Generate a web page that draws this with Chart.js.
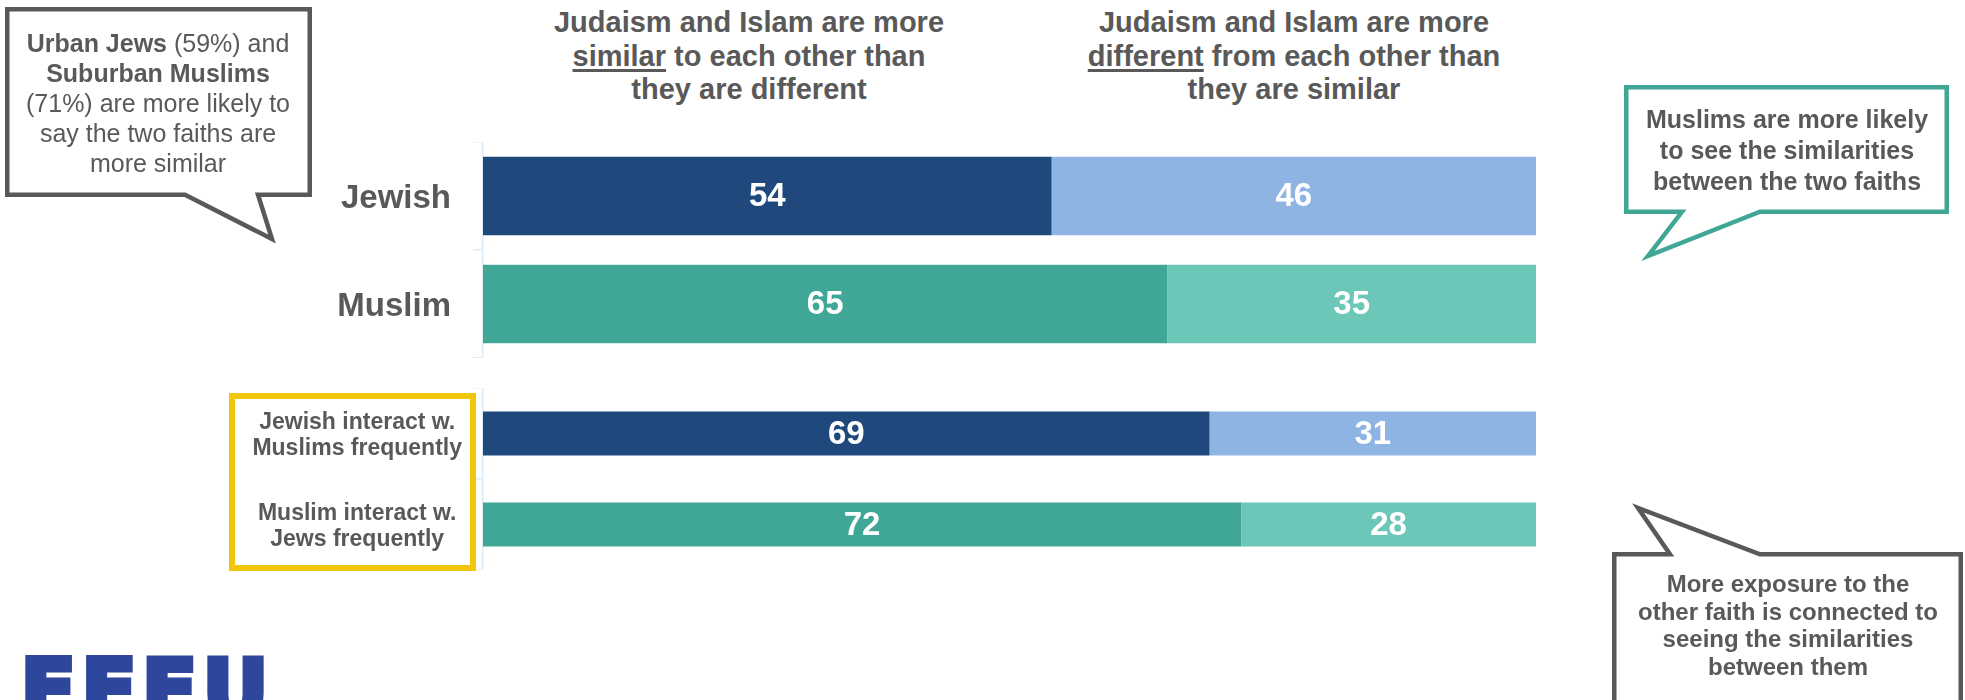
<!DOCTYPE html>
<html>
<head>
<meta charset="utf-8">
<script src="https://cdn.jsdelivr.net/npm/chart.js@4"></script>
<style>
  body {
    margin: 0;
    width: 1965px;
    height: 700px;
    overflow: hidden;
    background: #fff;
    position: relative;
    font-family: "Liberation Sans", Arial, sans-serif;
    color: #595959;
  }
  .pos { position: absolute; }
  .head {
    width: 460px;
    font-size: 29px;
    font-weight: bold;
    line-height: 33.5px;
    text-align: center;
    white-space: nowrap;
  }
  .head u {
    text-decoration-thickness: 3px;
    text-underline-offset: 3px;
  }
  .note {
    text-align: center;
    white-space: nowrap;
  }
  #topChart { left: 0; top: 142px; }
  #exposureChart { left: 0; top: 388px; }
  #exposureBox {
    left: 229px;
    top: 393px;
    width: 247px;
    height: 178px;
    box-sizing: border-box;
    border: 6px solid #F1C70E;
  }
  #logo {
    left: 21px;
    top: 650px;
    font-family: "DejaVu Sans", sans-serif;
    font-weight: bold;
    font-size: 80px;
    line-height: 80px;
    letter-spacing: 6px;
    color: #2E479C;
    -webkit-text-stroke: 6px #2E479C;
  }
</style>
</head>
<body>

<div class="pos head" style="left:519px; top:6px;">Judaism and Islam are more<br><u>similar</u> to each other than<br>they are different</div>
<div class="pos head" style="left:1064px; top:6px;">Judaism and Islam are more<br><u>different</u> from each other than<br>they are similar</div>

<canvas id="topChart" class="pos" width="1536" height="216"></canvas>
<canvas id="exposureChart" class="pos" width="1536" height="182"></canvas>
<div id="exposureBox" class="pos"></div>

<!-- speech bubbles -->
<svg class="pos" style="left:0; top:0;" width="1965" height="700">
  <path d="M7.25 9.25 H309.75 V194.75 H258 L272 239 L185 194.75 H7.25 Z"
        fill="#fff" stroke="#595959" stroke-width="4.5"/>
  <path d="M1626.25 87.25 H1946.75 V211.75 H1760 L1648 256 L1682 211.75 H1626.25 Z"
        fill="#fff" stroke="#40A796" stroke-width="4.5"/>
  <path d="M1614.25 720 V554.25 H1670 L1638 508 L1760 554.25 H1960.75 V720"
        fill="#fff" stroke="#595959" stroke-width="4.5"/>
</svg>

<div class="pos note" style="left:8px; width:300px; top:28px; font-size:25px; line-height:30px;">
  <b>Urban Jews</b> (59%) and<br><b>Suburban Muslims</b><br>(71%) are more likely to<br>say the two faiths are<br>more similar
</div>
<div class="pos note" style="left:1627px; width:320px; top:104px; font-size:25px; line-height:31px; font-weight:bold;">
  Muslims are more likely<br>to see the similarities<br>between the two faiths
</div>
<div class="pos note" style="left:1615px; width:346px; top:570px; font-size:24px; line-height:27.7px; font-weight:bold;">
  More exposure to the<br>other faith is connected to<br>seeing the similarities<br>between them
</div>

<div id="logo" class="pos">FFEU</div>

<script>
// survey groups and answer shares (percent)
const topGroups = ["Jewish", "Muslim"];
const topSimilar = [54, 65];
const topDifferent = [46, 35];

const exposureGroups = [
  ["Jewish interact w.", "Muslims frequently"],
  ["Muslim interact w.", "Jews frequently"],
];
const exposureSimilar = [69, 72];
const exposureDifferent = [31, 28];

// dark shade = "similar", light shade = "different"; blue for Jewish, teal for Muslim
const similarColors = ["#1F497D", "#40A796"];
const differentColors = ["#8EB4E3", "#6DC7B8"];

const fontFamily = '"Liberation Sans", Arial, sans-serif';
const axisBlue = "#DDEBF7";

// white value printed in the middle of every bar segment
const valueLabels = {
  id: "valueLabels",
  afterDatasetsDraw(chart) {
    const ctx = chart.ctx;
    ctx.save();
    ctx.font = `bold 33px ${fontFamily}`;
    ctx.fillStyle = "#fff";
    ctx.textAlign = "center";
    ctx.textBaseline = "middle";
    chart.data.datasets.forEach((ds, i) => {
      chart.getDatasetMeta(i).data.forEach((bar, j) => {
        const p = bar.getCenterPoint();
        ctx.fillText(ds.data[j], p.x, p.y + 1);
      });
    });
    ctx.restore();
  },
};

const makeChart = (canvasId, labels, similar, different, barPct, tickOpts) => {
  return new Chart(document.getElementById(canvasId), {
    type: "bar",
    data: {
      labels: labels,
      datasets: [
        { label: "More similar", data: similar, backgroundColor: similarColors },
        { label: "More different", data: different, backgroundColor: differentColors },
      ],
    },
    options: {
      indexAxis: "y",
      responsive: false,
      animation: false,
      devicePixelRatio: 1,
      layout: { padding: 0, autoPadding: false },
      datasets: {
        bar: { categoryPercentage: 1, barPercentage: barPct, borderWidth: 0 },
      },
      plugins: {
        legend: { display: false },
        tooltip: { enabled: false },
      },
      scales: {
        x: { stacked: true, min: 0, max: 100, display: false },
        y: {
          stacked: true,
          // fixed label column; no extra room above/below the first and last bar
          afterFit: (scale) => {
            scale.width = 483;
            scale.paddingTop = 0;
            scale.paddingBottom = 0;
          },
          grid: {
            drawOnChartArea: false,
            drawTicks: true,
            tickLength: 10,
            offset: true,
            color: axisBlue,
            lineWidth: 1.5,
          },
          border: { display: true, color: axisBlue, width: 1.5 },
          ticks: Object.assign({ color: "#595959" }, tickOpts),
        },
      },
    },
    plugins: [valueLabels],
  });
};

makeChart("topChart", topGroups, topSimilar, topDifferent, 0.726, {
  padding: 22,
  labelOffset: 3,
  font: { family: fontFamily, size: 33, weight: "bold" },
});

makeChart("exposureChart", exposureGroups, exposureSimilar, exposureDifferent, 0.486, {
  padding: 11,
  labelOffset: 2,
  crossAlign: "center",
  font: { family: fontFamily, size: 23, weight: "bold", lineHeight: 1.16 },
});
</script>
</body>
</html>
